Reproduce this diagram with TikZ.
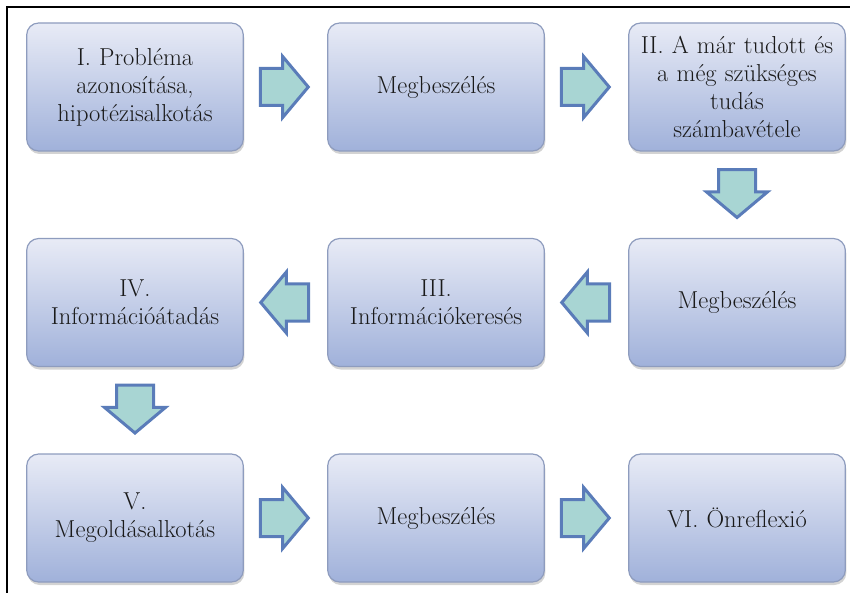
\documentclass[tikz,border=0pt]{standalone}
\usepackage{xcolor}
\usetikzlibrary{calc,shadows,shapes.arrows}

\definecolor{boxtop}{HTML}{E8EBF6}
\definecolor{boxbot}{HTML}{A0B1DA}
\definecolor{boxline}{HTML}{8E9CBE}
\definecolor{arrfill}{HTML}{A8D5D3}
\definecolor{arrline}{HTML}{5A7CB9}
\definecolor{txt}{HTML}{1A1A1A}

\tikzset{
    stepbox/.style={rectangle, rounded corners=12pt, draw=boxline, line width=1.2pt,
        top color=boxtop, bottom color=boxbot, minimum width=214pt, minimum height=128pt,
        text width=210pt, align=center, text=txt,
        font=\fontsize{24.5}{28}\selectfont,
        drop shadow={opacity=0.35, shadow xshift=1pt, shadow yshift=-3pt}},
    blockarrow/.style={single arrow, draw=arrline, fill=arrfill, line width=3pt,
        minimum height=48pt, inner xsep=0pt, inner ysep=17pt,
        single arrow head extend=12pt, single arrow tip angle=100}
}

\begin{document}
\begin{tikzpicture}[x=1pt, y=-1pt]
    \def\dx{301}
    \def\dy{215.5}
    \useasboundingbox (0,0) rectangle (853,593);

    % frame
    \draw[line width=1.8pt] (7,593) -- (7,7) -- (850,7);

    \node(b1) [stepbox] at (135, 87) {I. Probléma\\ azonosítása,\\ hipotézisalkotás};
    \node(b2) [stepbox] at (135 + \dx, 87) {Megbeszélés};
    \node(b3) [stepbox] at (135 + \dx*2, 87) {II. A már tudott és\\ a még szükséges\\ tudás\\ számbavétele};
    \node(b4) [stepbox] at (135, 87 + \dy) {IV.\\ Információátadás};
    \node(b5) [stepbox] at (135 + \dx, 87 + \dy) {III.\\ Információkeresés};
    \node(b6) [stepbox] at (135 + \dx*2, 87 + \dy) {Megbeszélés};
    \node(b7) [stepbox] at (135, 87 + \dy*2) {V.\\ Megoldásalkotás};
    \node(b8) [stepbox] at (135 + \dx, 87 + \dy*2) {Megbeszélés};
    \node(b9) [stepbox] at (135 + \dx*2, 87 + \dy*2) {VI. Önreflexió};

    \node(a1) [blockarrow] at ($(b1.east)!0.5!(b2.west) + (-9,0)$) {};
    \node(a2) [blockarrow] at ($(b2.east)!0.5!(b3.west) + (-9,0)$) {};
    \node(a3) [blockarrow, rotate=-90] at ($(b3.south)!0.5!(b6.north) + (0,-9)$) {};
    \node(a4) [blockarrow, rotate=180] at ($(b6.west)!0.5!(b5.east) + (7,0)$) {};
    \node(a5) [blockarrow, rotate=180] at ($(b5.west)!0.5!(b4.east) + (7,0)$) {};
    \node(a6) [blockarrow, rotate=-90] at ($(b4.south)!0.5!(b7.north) + (0,-9)$) {};
    \node(a7) [blockarrow] at ($(b7.east)!0.5!(b8.west) + (-9,0)$) {};
    \node(a8) [blockarrow] at ($(b8.east)!0.5!(b9.west) + (-9,0)$) {};

\end{tikzpicture}
\end{document}
